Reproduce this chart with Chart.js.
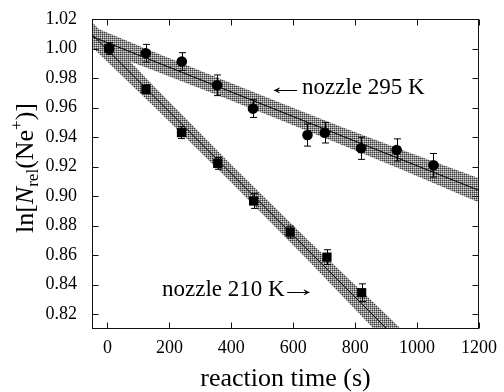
<!DOCTYPE html>
<html><head><meta charset="utf-8">
<script src="https://cdn.jsdelivr.net/npm/chart.js@4.4.1/dist/chart.umd.min.js"></script>
<style>html,body{margin:0;padding:0;background:#fff}#wrap{width:504px;height:392px}</style>
</head><body><div id="wrap"><canvas id="c" width="504" height="392"></canvas></div>
<script>
// ---- data ----
const xTicks = [0, 200, 400, 600, 800, 1000, 1200];
const yTicks = [0.82, 0.84, 0.86, 0.88, 0.90, 0.92, 0.94, 0.96, 0.98, 1.00, 1.02];

// nozzle 295 K (circles)
const t295 = [5, 124, 240, 354, 470, 646, 702, 819, 934, 1053];
const v295 = [1.000, 0.9968, 0.9912, 0.9751, 0.9593, 0.9414, 0.9430, 0.9324, 0.9313, 0.9209];
const e295 = [0.004, 0.006, 0.006, 0.007, 0.006, 0.0075, 0.007, 0.0075, 0.0075, 0.008];

// nozzle 210 K (squares)
const t210 = [5, 124, 239, 356, 472, 590, 709, 821];
const v210 = [1.000, 0.9724, 0.9430, 0.9222, 0.8967, 0.8757, 0.8587, 0.8346];
const e210 = [0.003, 0.003, 0.004, 0.004, 0.005, 0.004, 0.005, 0.006];

// fitted lines (end points)
const fitX295 = [-50, 1200];
const fitY295 = [1.0081, 0.9039];
const fitX210 = [-50, 980];
const fitY210 = [1.0095, 0.7938];

// confidence bands
const bandX295 = [-50, 150, 350, 550, 750, 950, 1200];
const bandHi295 = [1.0151, 0.9977, 0.9807, 0.9639, 0.9474, 0.9314, 0.9121];
const bandLo295 = [1.0011, 0.9851, 0.9689, 0.9523, 0.9354, 0.9180, 0.8957];
const bandX210 = [-50, 150, 400, 650, 900, 980];
const bandHi210 = [1.0180, 0.9744, 0.9213, 0.8697, 0.8198, 0.8036];
const bandLo210 = [1.0010, 0.9608, 0.9093, 0.8561, 0.8014, 0.7840];

const label295 = 'nozzle 295 K';
const label210 = 'nozzle 210 K';
const arrowLeft = '\u2190';
const arrowRight = '\u2192';
const xTitle = 'reaction time (s)';

// ---- helpers ----
const pts = (xs, ys) => xs.map((x, i) => ({x: x, y: ys[i]}));
const SERIF = "'Liberation Serif', 'Times New Roman', serif";

const canvas = document.getElementById('c');
const tile = document.createElement('canvas');
tile.width = 2; tile.height = 2;
const tg = tile.getContext('2d');
tg.fillStyle = '#d6d6d6'; tg.fillRect(0, 0, 2, 2);
tg.fillStyle = '#3c3c3c'; tg.fillRect(0, 0, 1, 1);
tg.fillStyle = '#8e8e8e'; tg.fillRect(1, 0, 1, 1); tg.fillRect(0, 1, 1, 1);
const hatch = canvas.getContext('2d').createPattern(tile, 'repeat');

const clear = 'rgba(0,0,0,0)';
function bandSet(xs, ys, fill) {
  return {type: 'line', data: pts(xs, ys), borderColor: clear, borderWidth: 0,
    pointRadius: 0, fill: fill, backgroundColor: hatch, order: 3, tension: 0};
}

const errorBars = {
  id: 'errorBars',
  beforeDatasetDraw(chart, args) {
    const ds = chart.data.datasets[args.index];
    if (!ds.errors) return;
    const ys = chart.scales.y, ctx = chart.ctx;
    ctx.save();
    ctx.strokeStyle = '#000'; ctx.lineWidth = 1;
    args.meta.data.forEach((el, i) => {
      const v = ds.data[i].y, e = ds.errors[i];
      const x = Math.round(el.x) + 0.5;
      const t = ys.getPixelForValue(v + e), b = ys.getPixelForValue(v - e);
      ctx.beginPath();
      ctx.moveTo(x, t); ctx.lineTo(x, b);
      ctx.moveTo(x - 3.5, t); ctx.lineTo(x + 3.5, t);
      ctx.moveTo(x - 3.5, b); ctx.lineTo(x + 3.5, b);
      ctx.stroke();
    });
    ctx.restore();
  }
};

// draws an arrow glyph so that its ink spans [x0, x0 + width]
function drawArrow(ctx, glyph, x0, y, width) {
  const m = ctx.measureText(glyph);
  const l = m.actualBoundingBoxLeft || 0, r = m.actualBoundingBoxRight || m.width;
  const ink = Math.max(1, l + r);
  const sx = width / ink;
  ctx.save();
  ctx.translate(x0 + l * sx, y);
  ctx.scale(sx, 1);
  ctx.fillText(glyph, 0, 0);
  ctx.restore();
}

const frame = {
  id: 'frame',
  afterDraw(chart) {
    const ctx = chart.ctx, a = chart.chartArea, xs = chart.scales.x, ys = chart.scales.y;
    ctx.save();
    ctx.strokeStyle = '#111'; ctx.lineWidth = 1;
    const L = Math.round(a.left) + 0.5, R = Math.round(a.right) - 0.5;
    const T = Math.round(a.top) + 0.5, B = Math.round(a.bottom) - 0.5;
    ctx.strokeRect(L, T, R - L, B - T);
    ctx.beginPath();
    xTicks.forEach(v => {
      const p = Math.round(xs.getPixelForValue(v)) + 0.5;
      ctx.moveTo(p, B); ctx.lineTo(p, B - 6);
      ctx.moveTo(p, T); ctx.lineTo(p, T + 6);
    });
    yTicks.forEach(v => {
      const p = Math.round(ys.getPixelForValue(v)) + 0.5;
      ctx.moveTo(L, p); ctx.lineTo(L + 6, p);
      ctx.moveTo(R, p); ctx.lineTo(R - 6, p);
    });
    ctx.stroke();

    // annotations
    ctx.fillStyle = '#000';
    ctx.font = '23px ' + SERIF;
    ctx.textBaseline = 'alphabetic';
    ctx.textAlign = 'left';
    drawArrow(ctx, arrowLeft, 272, 94, 26);
    ctx.fillText(label295, 302, 94);
    ctx.fillText(label210, 162, 296);
    const w210 = ctx.measureText(label210).width;
    drawArrow(ctx, arrowRight, 162 + w210 + 1, 296, 25);

    // y-axis title: ln[N_rel(Ne+)]
    const big = 26, small = 17;
    const parts = [
      {t: 'ln[', f: big + 'px ' + SERIF, dy: 0},
      {t: 'N', f: 'italic ' + big + 'px ' + SERIF, dy: 0},
      {t: 'rel', f: small + 'px ' + SERIF, dy: 5},
      {t: '(Ne', f: big + 'px ' + SERIF, dy: 0},
      {t: '+', f: small + 'px ' + SERIF, dy: -11},
      {t: ')]', f: big + 'px ' + SERIF, dy: 0}
    ];
    let total = 0;
    parts.forEach(p => { ctx.font = p.f; p.w = ctx.measureText(p.t).width; total += p.w; });
    ctx.translate(33, 168);
    ctx.rotate(-Math.PI / 2);
    let x = -total / 2;
    parts.forEach(p => { ctx.font = p.f; ctx.fillText(p.t, x, p.dy); x += p.w; });
    ctx.restore();
  }
};

new Chart(canvas, {
  type: 'line',
  data: {
    datasets: [
      bandSet(bandX295, bandHi295, '+1'),
      bandSet(bandX295, bandLo295, false),
      bandSet(bandX210, bandHi210, '+1'),
      bandSet(bandX210, bandLo210, false),
      {type: 'line', data: pts(fitX295, fitY295), borderColor: '#000', borderWidth: 1, pointRadius: 0, fill: false, order: 2},
      {type: 'line', data: pts(fitX210, fitY210), borderColor: '#000', borderWidth: 1, pointRadius: 0, fill: false, order: 2},
      {type: 'line', data: pts(t295, v295), errors: e295, showLine: false, pointStyle: 'circle',
        pointRadius: 5.3, pointBackgroundColor: '#000', pointBorderWidth: 0, pointBorderColor: '#000', order: 1},
      {type: 'line', data: pts(t210, v210), errors: e210, showLine: false, pointStyle: 'rect',
        pointRadius: 6.5, pointBackgroundColor: '#000', pointBorderWidth: 0, pointBorderColor: '#000', order: 1}
    ]
  },
  options: {
    responsive: false,
    animation: false,
    events: [],
    layout: {padding: {left: 0, right: 25, top: 19, bottom: 0}},
    plugins: {legend: {display: false}, tooltip: {enabled: false}},
    scales: {
      x: {
        type: 'linear', min: -50, max: 1200,
        grid: {display: false}, border: {display: false},
        afterBuildTicks: s => { s.ticks = xTicks.map(v => ({value: v})); },
        afterFit: s => { s.height = 63; },
        ticks: {padding: 0, color: '#000', font: {family: SERIF, size: 18}, maxRotation: 0,
          callback: v => String(v)},
        title: {display: true, text: xTitle, color: '#000', padding: {top: 0, bottom: 0},
          font: {family: SERIF, size: 26, lineHeight: 1}}
      },
      y: {
        type: 'linear', min: 0.81, max: 1.02,
        grid: {display: false}, border: {display: false},
        afterBuildTicks: s => { s.ticks = yTicks.map(v => ({value: v})); },
        afterFit: s => { s.width = 92; },
        ticks: {padding: 7, color: '#000', font: {family: SERIF, size: 18},
          callback: v => Number(v).toFixed(2)}
      }
    }
  },
  plugins: [errorBars, frame]
});
</script>
</body></html>
